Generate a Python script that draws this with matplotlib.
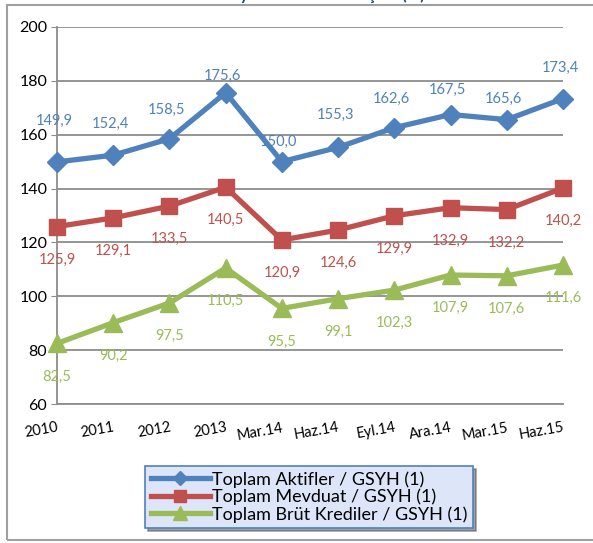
import matplotlib.pyplot as plt
from matplotlib.patches import Rectangle
import numpy as np

# === Dati ===
categories = ["2010", "2011", "2012", "2013", "Mar.14", "Haz.14",
              "Eyl.14", "Ara.14", "Mar.15", "Haz.15"]
aktifler = [149.9, 152.4, 158.5, 175.6, 150.0, 155.3, 162.6, 167.5, 165.6, 173.4]
mevduat = [125.9, 129.1, 133.5, 140.5, 120.9, 124.6, 129.9, 132.9, 132.2, 140.2]
krediler = [82.5, 90.2, 97.5, 110.5, 95.5, 99.1, 102.3, 107.9, 107.6, 111.6]
series_names = ["Toplam Aktifler / GSYH (1)", "Toplam Mevduat / GSYH (1)",
                "Toplam Brüt Krediler / GSYH (1)"]
title_text = "Grafik 1: Bankacılık Sektörü Büyüklüklerinin Gelişimi (%)"

# spostamento verticale delle etichette (pixel, come nell'originale)
blue_lift = [41, 31, 29, 17, 20, 32, 29, 25, 21, 31]
below_drop = 33

# === Stile ===
BLUE = "#4F81BD"
RED = "#C0504D"
GREEN = "#9BBB59"
GRID = "#8C8C8C"
PT = 0.72  # pixel -> punti a 100 dpi
plt.rcParams['font.family'] = ['Lato', 'DejaVu Sans']

fig = plt.figure(figsize=(5.93, 5.43), dpi=100)
ax = fig.add_axes([57 / 593, 1 - 404 / 543, 506 / 593, 377 / 543])

# bordo esterno
fig.patches.append(Rectangle((7 / 593, 3 / 543), 1.2, 1 - 8 / 543,
                             transform=fig.transFigure, fill=False,
                             edgecolor="#A0A0A0", linewidth=1.5, zorder=0))
fig.text(10 / 593, 1 + 5 / 543, title_text, fontsize=12, fontweight='bold',
         color="#1F497D", va='center', ha='left')

x = np.arange(len(categories))
specs = [
    (aktifler, BLUE, 'D', 10, [(-3, b) for b in blue_lift]),
    (mevduat, RED, 's', 11.5, [(0, -below_drop)] * len(x)),
    (krediler, GREEN, '^', 12.5, [(0, -below_drop)] * len(x)),
]
handles = []
for (vals, col, mk, ms, offs), name in zip(specs, series_names):
    h, = ax.plot(x, vals, color=col, linewidth=3.8, marker=mk, markersize=ms,
                 label=name, zorder=3, clip_on=False)
    handles.append(h)
    for xi, v, (dx, dy) in zip(x, vals, offs):
        ax.annotate(f"{v:.1f}".replace(".", ","), (xi, v),
                    xytext=(dx * PT, dy * PT),
                    textcoords='offset points', ha='center', va='center',
                    color=col, fontsize=10.5, zorder=4,
                    annotation_clip=False)

ax.set_xlim(0, 9)
ax.set_ylim(60, 200)
ax.set_yticks(range(60, 201, 20))
ax.yaxis.grid(True, color=GRID, linewidth=1.3)
ax.set_axisbelow(True)
for s in ['top', 'right']:
    ax.spines[s].set_visible(False)
ax.spines['left'].set_color(GRID)
ax.spines['bottom'].set_color(GRID)
ax.spines['left'].set_linewidth(1.3)
ax.spines['bottom'].set_linewidth(1.3)
ax.tick_params(axis='y', length=4, color=GRID, labelsize=11.5, pad=3)
ax.tick_params(axis='x', length=0, labelsize=10.5, pad=12)
ax.set_xticks(x)
ax.set_xticklabels(categories, rotation=10, ha='right', rotation_mode='anchor')

leg = fig.legend(handles=handles, loc='center', bbox_to_anchor=(309 / 593, 1 - 497 / 543),
                 frameon=True, fontsize=13, handlelength=3.3, handletextpad=0.1,
                 borderpad=0.3, labelspacing=0.05, markerscale=0.75,
                 fancybox=False, shadow=True)
leg.get_frame().set_facecolor("#DCE6F8")
leg.get_frame().set_edgecolor("#4F81BD")
leg.get_frame().set_linewidth(1.2)

fig.savefig("out.png", dpi=100)
